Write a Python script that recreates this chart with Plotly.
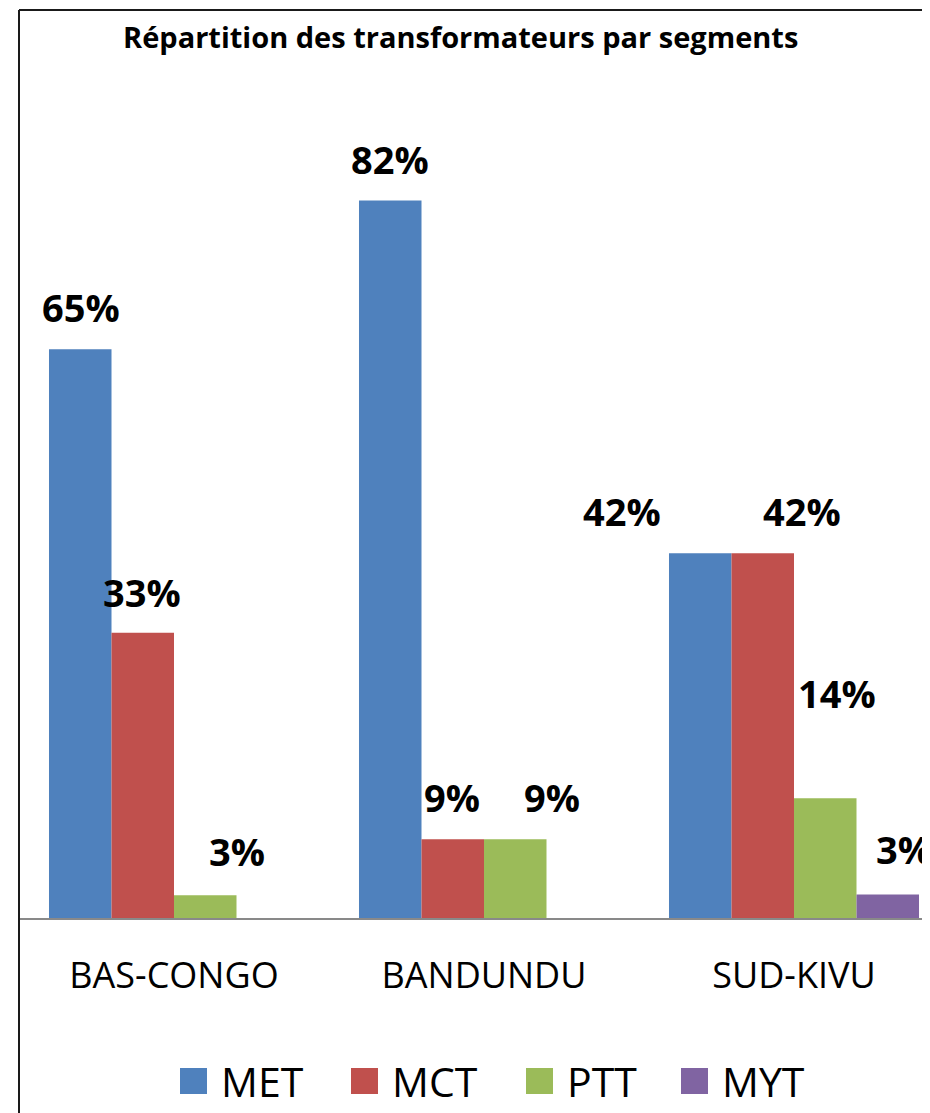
import plotly.graph_objects as go

# ---------------- data ----------------
categories = ["BAS-CONGO", "BANDUNDU", "SUD-KIVU"]
series_names = ["MET", "MCT", "PTT", "MYT"]
met = [65.0, 82.0, 41.7]
mct = [32.6, 9.0, 41.7]
ptt = [2.6, 9.0, 13.7]
myt = [0.0, 0.0, 2.7]
series_values = [met, mct, ptt, myt]
title_text = "Répartition des transformateurs par segments"

# ---------------- style ----------------
colors = ["#4F81BD", "#C0504D", "#9BBB59", "#8064A2"]
FONT = "Open Sans, Noto Sans, DejaVu Sans, sans-serif"
OFF = 8  # page body margin
W, H = 930 - OFF, 1113 - OFF
L, R, T, B = 19 - OFF, 0, 43 - OFF, 195
pw, ph = W - L - R, H - T - B


def px_x(px):
    return (px - OFF - L) / pw


def px_y(py):
    return (H - B - (py - OFF)) / ph


# manual label placement (xshift, yshift) keyed by (series, category)
label_offsets = {
    (0, 0): (-93, 42), (1, 0): (-32, 41), (2, 0): (63, 44),
    (0, 1): (-94, 42), (1, 1): (-32, 42), (2, 1): (68, 42),
    (0, 2): (-172, 42), (1, 2): (8, 42), (2, 2): (43, 105), (3, 2): (110, 45),
}

fig = go.Figure()
for name, vals, col in zip(series_names, series_values, colors):
    fig.add_trace(go.Bar(
        x=categories, y=vals, name=name,
        marker=dict(color=col, line=dict(width=0)),
        showlegend=False, hoverinfo="skip",
    ))

annotations = []
for si, vals in enumerate(series_values):
    for ci, v in enumerate(vals):
        if v <= 0:
            continue
        xs, ys = label_offsets.get((si, ci), (0, 42))
        annotations.append(dict(
            x=categories[ci], y=v, xref="x", yref="y",
            text=f"{v:.0f}%", showarrow=False,
            xanchor="center", yanchor="middle",
            xshift=xs, yshift=ys,
            font=dict(family=FONT, size=38, color="black", weight="bold"),
        ))

# title
annotations.append(dict(
    x=px_x(460), y=px_y(37), xref="paper", yref="paper",
    text=title_text, showarrow=False, xanchor="center", yanchor="middle",
    font=dict(family=FONT, size=29, color="black", weight="bold"),
))

# manual legend
legend_sq_left = [180, 351, 526, 681]
shapes = []
for name, col, sx in zip(series_names, colors, legend_sq_left):
    shapes.append(dict(
        type="rect", xref="paper", yref="paper",
        x0=px_x(sx), x1=px_x(sx + 27), y0=px_y(1094), y1=px_y(1068),
        fillcolor=col, line=dict(width=0),
    ))
    annotations.append(dict(
        x=px_x(sx + 39), y=px_y(1081), xref="paper", yref="paper",
        text=name, showarrow=False, xanchor="left", yanchor="middle",
        font=dict(family=FONT, size=41, color="black"),
    ))

# outer frame (left and top edges)
shapes.append(dict(type="line", xref="paper", yref="paper",
                   x0=px_x(19), x1=px_x(19), y0=px_y(1113), y1=px_y(10),
                   line=dict(color="#1a1a1a", width=2)))
shapes.append(dict(type="line", xref="paper", yref="paper",
                   x0=px_x(19), x1=px_x(935), y0=px_y(10), y1=px_y(10),
                   line=dict(color="#1a1a1a", width=2)))

fig.update_layout(
    width=W, height=H,
    margin=dict(l=L, r=R, t=T, b=B, pad=0),
    paper_bgcolor="white", plot_bgcolor="white",
    barmode="group", bargap=0.1935, bargroupgap=0,
    showlegend=False,
    annotations=annotations, shapes=shapes,
    xaxis=dict(
        range=[-0.5, -0.5 + pw / 310.0],
        showline=True, linecolor="#898989", linewidth=2,
        showgrid=False, zeroline=False,
        ticks="outside", ticklen=25, tickcolor="rgba(0,0,0,0)",
        tickfont=dict(family=FONT, size=36, color="black"),
        fixedrange=True,
    ),
    yaxis=dict(range=[0, 100], visible=False, showgrid=False,
               zeroline=False, fixedrange=True),
)

fig.write_html("out.html")
